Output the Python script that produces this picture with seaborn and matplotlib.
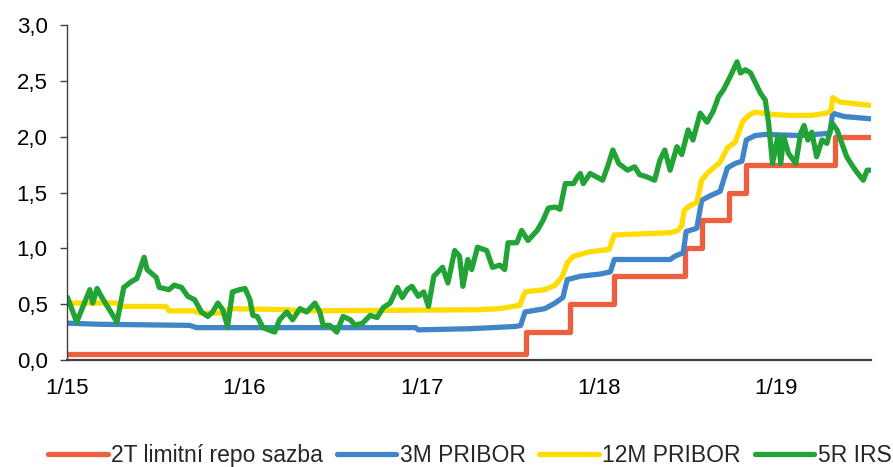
import matplotlib
matplotlib.use("Agg")
import matplotlib.pyplot as plt
import seaborn as sns
import pandas as pd
import numpy as np

# 2T limitni repo sazba (CNB steps)
repo_dates = ["2015-01-01", "2017-08-03", "2017-11-02", "2018-02-01", "2018-06-27",
              "2018-08-02", "2018-09-27", "2018-11-01", "2019-05-02", "2019-07-16"]
repo_values = [0.05, 0.25, 0.50, 0.75, 1.00, 1.25, 1.50, 1.75, 2.00, 2.00]

# 3M PRIBOR
pribor3_dates = ["2015-01-01", "2015-03-08", "2015-09-11", "2015-09-25", "2016-04-25",
                 "2016-12-19", "2016-12-25", "2017-04-10", "2017-07-12", "2017-07-24",
                 "2017-08-02", "2017-09-12", "2017-10-03", "2017-10-19", "2017-10-28",
                 "2017-11-24", "2018-01-04", "2018-01-25", "2018-02-02", "2018-05-28",
                 "2018-06-07", "2018-06-24", "2018-06-30", "2018-07-22", "2018-08-01",
                 "2018-08-18", "2018-09-08", "2018-09-23", "2018-10-09", "2018-10-23",
                 "2018-11-01", "2018-11-19", "2018-12-10", "2019-02-21", "2019-04-22",
                 "2019-04-28", "2019-05-22", "2019-07-16"]
pribor3_values = [0.33, 0.32, 0.31, 0.29, 0.29,
                  0.29, 0.27, 0.28, 0.30, 0.31,
                  0.43, 0.46, 0.51, 0.56, 0.72,
                  0.75, 0.77, 0.79, 0.90, 0.90,
                  0.93, 0.96, 1.15, 1.18, 1.43,
                  1.47, 1.51, 1.72, 1.76, 1.78,
                  1.97, 2.01, 2.02, 2.01, 2.03,
                  2.21, 2.18, 2.16]

# 12M PRIBOR
pribor12_dates = ["2015-01-01", "2015-04-14", "2015-04-20", "2015-07-24", "2015-07-30",
                  "2015-09-21", "2015-10-01", "2015-11-22", "2015-12-02", "2016-04-04",
                  "2016-04-25", "2017-04-26", "2017-06-11", "2017-07-22", "2017-08-02",
                  "2017-09-12", "2017-10-03", "2017-10-18", "2017-10-28", "2017-11-10",
                  "2017-12-14", "2018-01-22", "2018-02-02", "2018-05-28", "2018-06-13",
                  "2018-06-21", "2018-06-26", "2018-07-07", "2018-07-22", "2018-08-01",
                  "2018-08-12", "2018-08-25", "2018-09-08", "2018-09-23", "2018-10-09",
                  "2018-10-25", "2018-11-06", "2018-11-19", "2018-12-21", "2019-02-01",
                  "2019-03-13", "2019-04-16", "2019-04-25", "2019-04-28", "2019-05-13",
                  "2019-06-03", "2019-07-16"]
pribor12_values = [0.51, 0.51, 0.48, 0.48, 0.44,
                   0.44, 0.42, 0.42, 0.46, 0.45,
                   0.44, 0.45, 0.46, 0.49, 0.61,
                   0.63, 0.67, 0.75, 0.87, 0.93,
                   0.97, 0.99, 1.12, 1.14, 1.16,
                   1.20, 1.34, 1.38, 1.41, 1.61,
                   1.67, 1.72, 1.77, 1.90, 1.95,
                   2.14, 2.19, 2.22, 2.20, 2.19,
                   2.19, 2.21, 2.24, 2.35, 2.31,
                   2.30, 2.28]

# 5R IRS
irs_dates = ["2015-01-02", "2015-01-21", "2015-02-17", "2015-02-23", "2015-03-04",
             "2015-03-14", "2015-04-14", "2015-04-28", "2015-05-13", "2015-05-25",
             "2015-06-09", "2015-06-15", "2015-07-04", "2015-07-10", "2015-07-30",
             "2015-08-10", "2015-08-25", "2015-09-07", "2015-09-21", "2015-10-05",
             "2015-10-18", "2015-10-28", "2015-11-08", "2015-11-18", "2015-11-28",
             "2015-12-08", "2015-12-23", "2016-01-03", "2016-01-13", "2016-01-19",
             "2016-01-28", "2016-02-09", "2016-03-04", "2016-03-14", "2016-03-29",
             "2016-04-10", "2016-04-25", "2016-05-09", "2016-05-26", "2016-06-05",
             "2016-06-12", "2016-06-26", "2016-07-10", "2016-07-23", "2016-08-07",
             "2016-08-17", "2016-09-01", "2016-09-17", "2016-10-01", "2016-10-14",
             "2016-10-28", "2016-11-12", "2016-11-22", "2016-12-02", "2016-12-12",
             "2016-12-25", "2017-01-05", "2017-01-15", "2017-01-26", "2017-02-13",
             "2017-02-24", "2017-03-10", "2017-03-20", "2017-03-27", "2017-04-06",
             "2017-04-14", "2017-04-26", "2017-05-15", "2017-05-27", "2017-06-11",
             "2017-06-21", "2017-06-28", "2017-07-16", "2017-07-26", "2017-08-08",
             "2017-08-27", "2017-09-08", "2017-09-19", "2017-10-03", "2017-10-13",
             "2017-10-24", "2017-11-10", "2017-11-18", "2017-11-24", "2017-11-30",
             "2017-12-14", "2018-01-09", "2018-01-19", "2018-01-30", "2018-02-11",
             "2018-03-01", "2018-03-16", "2018-03-26", "2018-04-10", "2018-04-26",
             "2018-05-07", "2018-05-17", "2018-05-28", "2018-06-11", "2018-06-21",
             "2018-07-04", "2018-07-14", "2018-07-29", "2018-08-12", "2018-08-25",
             "2018-09-05", "2018-09-15", "2018-09-29", "2018-10-13", "2018-10-20",
             "2018-10-30", "2018-11-10", "2018-11-20", "2018-11-30", "2018-12-10",
             "2018-12-17", "2018-12-25", "2019-01-05", "2019-01-11", "2019-01-17",
             "2019-01-27", "2019-02-11", "2019-02-21", "2019-02-28", "2019-03-08",
             "2019-03-16", "2019-03-26", "2019-04-06", "2019-04-16", "2019-04-27",
             "2019-05-07", "2019-05-17", "2019-05-27", "2019-06-09", "2019-06-19",
             "2019-06-30", "2019-07-08", "2019-07-14"]
irs_values = [0.56, 0.34, 0.63, 0.51, 0.64,
              0.56, 0.34, 0.65, 0.70, 0.73,
              0.92, 0.81, 0.74, 0.65, 0.63,
              0.67, 0.65, 0.57, 0.54, 0.43,
              0.39, 0.43, 0.51, 0.45, 0.30,
              0.61, 0.63, 0.64, 0.54, 0.40,
              0.39, 0.29, 0.25, 0.36, 0.43,
              0.36, 0.46, 0.43, 0.51, 0.43,
              0.31, 0.31, 0.25, 0.39, 0.36,
              0.31, 0.33, 0.40, 0.38, 0.47,
              0.51, 0.65, 0.56, 0.63, 0.66,
              0.57, 0.61, 0.48, 0.75, 0.83,
              0.69, 0.98, 0.93, 0.66, 0.90,
              0.81, 1.01, 0.98, 0.83, 0.85,
              0.81, 1.05, 1.05, 1.16, 1.07,
              1.16, 1.25, 1.36, 1.37, 1.35,
              1.58, 1.58, 1.64, 1.67, 1.58,
              1.67, 1.61, 1.73, 1.88, 1.76,
              1.70, 1.73, 1.66, 1.64, 1.61,
              1.79, 1.88, 1.70, 1.91, 1.84,
              2.06, 1.97, 2.21, 2.13, 2.23,
              2.36, 2.42, 2.54, 2.67, 2.57,
              2.60, 2.57, 2.48, 2.39, 2.33,
              2.12, 1.76, 2.00, 1.76, 2.00,
              1.85, 1.76, 2.03, 2.10, 1.97,
              2.04, 1.82, 1.97, 1.94, 2.12,
              2.06, 1.94, 1.82, 1.73, 1.67,
              1.61, 1.70, 1.70]

series_names = ["2T limitní repo sazba", "3M PRIBOR", "12M PRIBOR", "5R IRS"]
series_colors = ["#EC5F3F", "#3F85C8", "#FFDC00", "#21A336"]
tick_dates = ["2015-01-01", "2016-01-01", "2017-01-01", "2018-01-01", "2019-01-01"]
tick_labels = ["1/15", "1/16", "1/17", "1/18", "1/19"]

sns.set_style("ticks")
plt.rcParams["font.family"] = ["Liberation Sans", "DejaVu Sans"]

fig = plt.figure(figsize=(8.93, 4.67), dpi=100)
ax = fig.add_axes([67 / 893, 1 - 360 / 467, (871 - 67) / 893, (360 - 25) / 467])

all_series = [(repo_dates, repo_values), (pribor3_dates, pribor3_values),
              (pribor12_dates, pribor12_values), (irs_dates, irs_values)]
for (dates, vals), name, col in zip(all_series, series_names, series_colors):
    extra = {"drawstyle": "steps-post"} if name.startswith("2T") else {}
    sns.lineplot(x=pd.to_datetime(dates), y=vals, ax=ax, color=col,
                 linewidth=3.8, label=name, solid_capstyle="round", **extra)

ax.set_xlim(pd.Timestamp("2015-01-01"), pd.Timestamp("2019-07-16"))
ax.set_ylim(0, 3)
ax.set_xticks(pd.to_datetime(tick_dates))
ax.set_xticklabels(tick_labels)
yt = np.arange(0, 3.01, 0.5)
ax.set_yticks(yt)
ax.set_yticklabels([f"{v:.1f}".replace(".", ",") for v in yt])
ax.set_xlabel("")
ax.set_ylabel("")

for s in ["top", "right"]:
    ax.spines[s].set_visible(False)
ax.spines["left"].set_color("#404040")
ax.spines["left"].set_linewidth(1.0)
ax.spines["bottom"].set_color("#404040")
ax.spines["bottom"].set_linewidth(1.6)
ax.tick_params(axis="y", length=5, width=1, color="#404040", pad=9,
               labelsize=16, labelcolor="black")
ax.tick_params(axis="x", length=0, pad=13, labelsize=16, labelcolor="black")

handles, labels = ax.get_legend_handles_labels()
if ax.get_legend() is not None:
    ax.get_legend().remove()
fig.legend(handles, labels, loc="center", bbox_to_anchor=(0.526, 0.025), ncol=4,
           frameon=False, fontsize=16.5, handlelength=2.6, handletextpad=0.15,
           columnspacing=0.6, borderaxespad=0)

fig.savefig("out.png", dpi=100)
